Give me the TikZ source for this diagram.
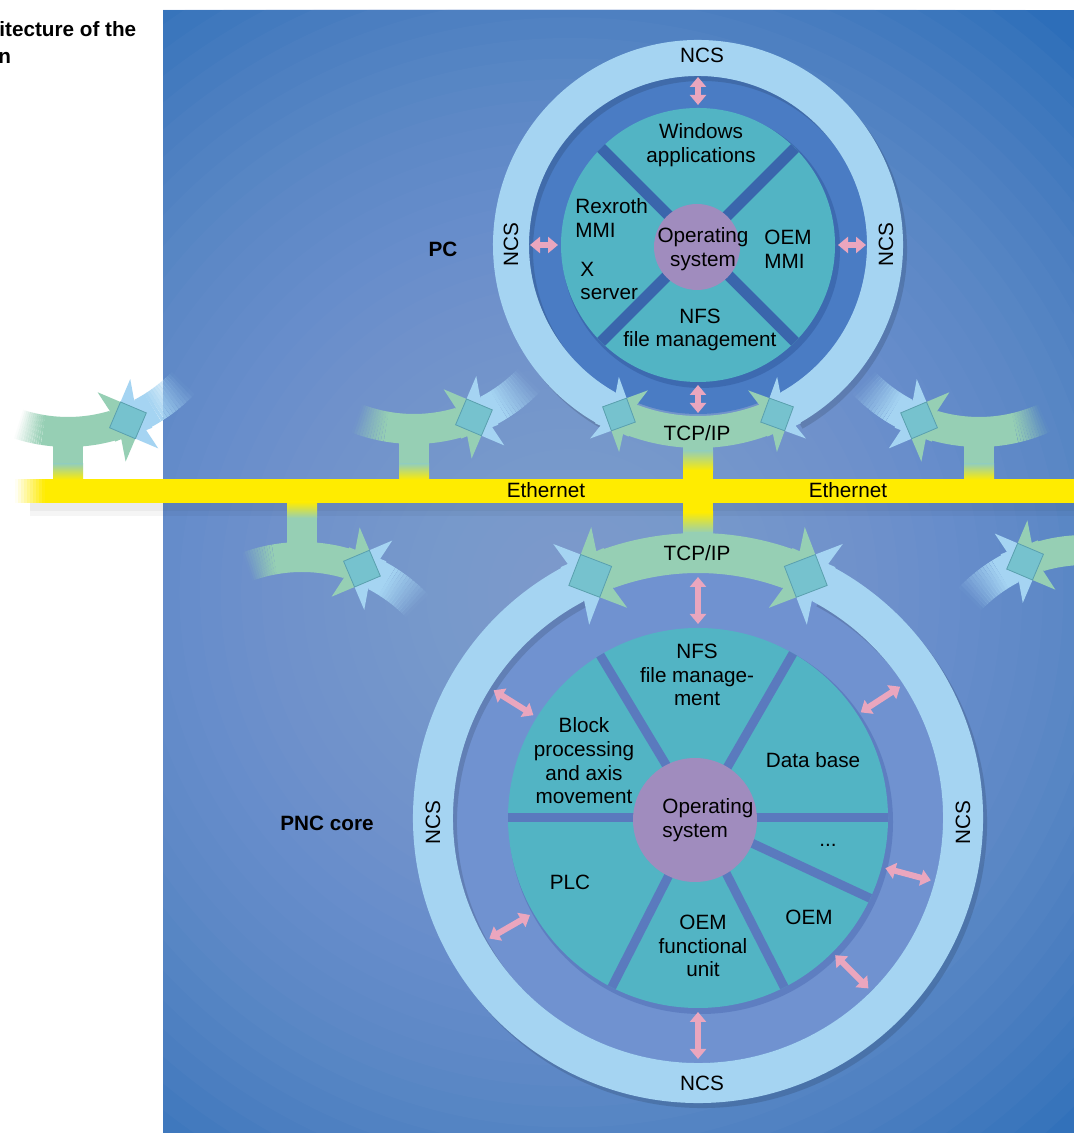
\documentclass[tikz,border=0pt]{standalone}
\usepackage{fontspec}
\setmainfont{Liberation Sans}
\usetikzlibrary{arrows.meta,calc}
\definecolor{ringblue}{RGB}{165,212,242}
\definecolor{teal1}{RGB}{82,180,196}
\definecolor{purp}{RGB}{160,140,190}
\definecolor{pinkc}{RGB}{234,166,190}
\definecolor{greenc}{RGB}{150,207,180}
\definecolor{sqc}{RGB}{118,194,206}
\definecolor{sqd}{RGB}{90,160,175}
\definecolor{yel}{RGB}{255,236,0}
\definecolor{innertop}{RGB}{74,124,196}
\definecolor{innerbot}{RGB}{112,146,208}
\definecolor{gaptop}{RGB}{58,102,172}
\definecolor{gapbot}{RGB}{90,122,190}
\definecolor{bgbase}{RGB}{45,110,185}
\definecolor{bglight}{RGB}{150,172,222}

% junction: two arrowheads meeting, overlap square
\newcommand\junc[5]{%
  \begin{scope}[shift={(#1)},rotate=#2,scale=#3]
    \fill[ringblue] (-18,-#4) -- (-12,-#4) -- (-16,-34) -- (18,0) -- (-16,34) -- (-12,#4) -- (-18,#4) -- cycle;
    \fill[greenc] (18,-#5) -- (12,-#5) -- (16,-34) -- (-18,0) -- (16,34) -- (12,#5) -- (18,#5) -- cycle;
    \filldraw[fill=sqc,draw=sqd,line width=0.4pt] (18,0) -- (0,18) -- (-18,0) -- (0,-18) -- cycle;
  \end{scope}}

% fading arc: color, centre, radius, opaque angle, transparent angle, width
\newcommand\fadearc[6]{%
  \foreach \fk in {0,...,11}{%
    \pgfmathsetmacro\fsa{(#4)+((#5)-(#4))*\fk/12}%
    \pgfmathsetmacro\fea{(#4)+((#5)-(#4))*(\fk+1)/12}%
    \pgfmathsetmacro\fop{1-(\fk+0.5)/12}%
    \draw[#1, line width=#6, draw opacity=\fop] ($(#2)+(\fsa:#3)$) arc[start angle=\fsa, end angle=\fea, radius=#3];
  }}

\begin{document}
\begin{tikzpicture}[x=0.5pt,y=0.5pt,
  lbl/.style={font=\fontsize{10.35pt}{11.8pt}\selectfont, align=center, inner sep=0pt, text=black},
  lblb/.style={lbl, font=\fontsize{10.35pt}{11.8pt}\selectfont\bfseries},
  pinkarr/.style={draw=pinkc, line width=3pt, {Triangle[width=8pt,length=5pt]}-{Triangle[width=8pt,length=5pt]}},
  shadowc/.style={black, opacity=0.13}]

\useasboundingbox (0,0) rectangle (1074,1133);
\fill[white] (0,0) rectangle (1074,1133);
% blue panel with soft light centre
\begin{scope}
  \clip (163,0) rectangle (1074,1123);
  \fill[bgbase] (163,0) rectangle (1074,1123);
  \foreach \k in {0,...,35}{%
    \pgfmathsetmacro\rx{740*(1-\k/36)}
    \fill[bglight, opacity=0.052] (570,540) ellipse [x radius=\rx, y radius=\rx];
  }
\end{scope}

% title
\node[lblb, anchor=west, align=left] (title1) at (-1,1104) {itecture of the};
\node[lblb, anchor=west, align=left] (title2) at (-2,1075) {n};

% Ethernet bar with shadow
\fill[black,opacity=0.08] (30,622) rectangle (1074,630);
\fill[black,opacity=0.04] (30,617) rectangle (1074,622);
\fill[yel] (45,630) rectangle (1074,654);
\foreach \i in {0,...,9}{%
  \pgfmathsetmacro\eop{1-(\i+0.5)/10}
  \fill[yel, opacity=\eop] ({45-3*\i},630) rectangle ({45-3*(\i+1)},654);
}

% stems
\fill[greenc] (683,681) rectangle (713,694);
\shade[top color=greenc, bottom color=yel] (683,662) rectangle (713,682);
\fill[yel] (683,620) rectangle (713,663);
\shade[top color=yel, bottom color=greenc] (683,600) rectangle (713,621);
\fill[greenc] (683,586) rectangle (713,601);
\foreach \sx in {53,399,964}{%
  \fill[greenc] (\sx,668) rectangle ({\sx+30},696);
  \shade[top color=greenc, bottom color=yel] (\sx,653) rectangle ({\sx+30},669);
}
\fill[greenc] (287,584) rectangle (317,616);
\shade[top color=yel, bottom color=greenc] (287,615) rectangle (317,631);

% side connectors
\coordinate (cA) at (68,861);
\coordinate (jA) at ($(cA)+(-68:160)$);
\draw[greenc, line width=15pt] ($(cA)+(-73.5:160)$) arc[start angle=-73.5, end angle=-99, radius=160];
\fadearc{greenc}{cA}{160}{-99}{-108}{15pt}
\draw[ringblue, line width=16pt] ($(cA)+(-62.5:160)$) arc[start angle=-62.5, end angle=-58, radius=160];
\fadearc{ringblue}{cA}{160}{-58}{-44}{16pt}
\junc{jA}{-158}{1.1}{14.5}{13.6}

\coordinate (cB) at (414,864);
\coordinate (jB) at ($(cB)+(-68:160)$);
\draw[greenc, line width=15pt] ($(cB)+(-73.5:160)$) arc[start angle=-73.5, end angle=-100, radius=160];
\fadearc{greenc}{cB}{160}{-100}{-111}{15pt}
\draw[ringblue, line width=16pt] ($(cB)+(-62.5:160)$) arc[start angle=-62.5, end angle=-58, radius=160];
\fadearc{ringblue}{cB}{160}{-58}{-44}{16pt}
\junc{jB}{-158}{1.1}{14.5}{13.6}

\coordinate (cD) at (979,861);
\coordinate (jD) at ($(cD)+(-112:160)$);
\draw[greenc, line width=15pt] ($(cD)+(-106.5:160)$) arc[start angle=-106.5, end angle=-77, radius=160];
\fadearc{greenc}{cD}{160}{-77}{-66}{15pt}
\draw[ringblue, line width=16pt] ($(cD)+(-117.5:160)$) arc[start angle=-117.5, end angle=-122, radius=160];
\fadearc{ringblue}{cD}{160}{-122}{-136}{16pt}
\junc{jD}{-22}{1.1}{14.5}{13.6}

\coordinate (cC) at (302,416);
\coordinate (jC) at ($(cC)+(68:160)$);
\draw[greenc, line width=15pt] ($(cC)+(73.5:160)$) arc[start angle=73.5, end angle=100, radius=160];
\fadearc{greenc}{cC}{160}{100}{110}{15pt}
\draw[ringblue, line width=16pt] ($(cC)+(62.5:160)$) arc[start angle=62.5, end angle=58, radius=160];
\fadearc{ringblue}{cC}{160}{58}{44}{16pt}
\junc{jC}{158}{1.1}{14.5}{13.6}

\coordinate (cE) at (1085,423);
\coordinate (jE) at ($(cE)+(112:160)$);
\draw[greenc, line width=15pt] ($(cE)+(106.5:160)$) arc[start angle=106.5, end angle=60, radius=160];
\draw[ringblue, line width=16pt] ($(cE)+(117.5:160)$) arc[start angle=117.5, end angle=122, radius=160];
\fadearc{ringblue}{cE}{160}{122}{136}{16pt}
\junc{jE}{22}{1.1}{14.5}{13.6}

% ===== top circle (PC) =====
\coordinate (pc) at (698,888);
\fill[innertop] (pc) circle (169);
\fill[gaptop, opacity=0.8] ($(pc)+(3,-4)$) circle (139);
\fill[teal1] (pc) circle (137);
\foreach \a in {45,135,225,315} \draw[gaptop, line width=5.5pt] (pc) -- ($(pc)+(\a:137)$);
\fill[purp] (697,886) circle (43);
\draw[shadowc, line width=18pt] ($(pc)+(4,-5)+(-60.7:187)$) arc[start angle=-60.7, end angle=240.7, radius=187];
\draw[ringblue, line width=18pt] ($(pc)+(-60.7:187)$) arc[start angle=-60.7, end angle=240.7, radius=187];
\draw[greenc, line width=16pt] ($(pc)+(-110.7:187)$) arc[start angle=-110.7, end angle=-69.3, radius=187];
\coordinate (pcL) at ($(pc)+(-115:187)$);
\coordinate (pcR) at ($(pc)+(-65:187)$);
\junc{pcL}{-25}{1}{18}{16}
\junc{pcR}{-155}{1}{18}{16}
\foreach \a in {90,180,0,270} \draw[pinkarr] ($(pc)+(\a:140)$) -- ($(pc)+(\a:168)$);

% ===== bottom circle (PNC core) =====
\coordinate (bc) at (698,315);
\fill[innerbot] (bc) circle (245);
\fill[gapbot, opacity=0.8] ($(bc)+(3,-4)$) circle (192);
\fill[teal1] (bc) circle (190);
\foreach \a in {180,121,60,0,-25,-63,-117} \draw[gapbot, line width=4.5pt] (bc) -- ($(bc)+(\a:190)$);
\fill[purp] (695,313) circle (62);
\draw[shadowc, line width=20pt] ($(bc)+(4,-5)+(117.9:265)$) arc[start angle=117.9, end angle=422.1, radius=265];
\draw[ringblue, line width=20pt] ($(bc)+(117.9:265)$) arc[start angle=117.9, end angle=422.1, radius=265];
\draw[greenc, line width=20pt] ($(bc)+(69.9:265)$) arc[start angle=69.9, end angle=110.1, radius=265];
\coordinate (bcL) at ($(bc)+(114:265)$);
\coordinate (bcR) at ($(bc)+(66:265)$);
\junc{bcL}{24}{1.3}{15.4}{15.4}
\junc{bcR}{156}{1.3}{15.4}{15.4}
\foreach \a in {90,148,210,270,315,345,33} \draw[pinkarr] ($(bc)+(\a:194)$) -- ($(bc)+(\a:241)$);

% ===== labels =====
\node[lbl] (tcp1) at (697,700) {TCP/IP};
\node[lbl] (tcp2) at (697,580) {TCP/IP};
\node[lbl] (eth1) at (546,643) {Ethernet};
\node[lbl] (eth2) at (848,643) {Ethernet};

\node[lbl] (ncs1) at (702,1078) {NCS};
\node[lbl, rotate=90] (ncs2) at (511,888) {NCS};
\node[lbl, rotate=90] (ncs3) at (886,888) {NCS};
\node[lbl] (win) at (701,988) {Windows\\applications};
\node[lbl, anchor=west, align=left] (rex) at (575,915) {Rexroth\\MMI};
\node[lbl, anchor=west, align=left] (xs) at (580,852) {X\\server};
\node[lbl] (os1) at (703,884) {Operating\\system};
\node[lbl, anchor=west, align=left] (oemmmi) at (764,884) {OEM\\MMI};
\node[lbl] (nfs1) at (700,803) {NFS\\file management};
\node[lblb] (pclbl) at (443,884) {PC};

\node[lbl] (nfs2) at (697,458) {NFS\\file manage-\\ment};
\node[lbl] (blk) at (584,372) {Block\\processing\\and axis\\movement};
\node[lbl] (db) at (813,373) {Data base};
\node[lbl, anchor=west, align=left] (os2) at (662,313) {Operating\\system};
\node[lbl] (dots) at (828,288) {...};
\node[lbl] (plc) at (570,251) {PLC};
\node[lbl] (oem) at (809,216) {OEM};
\node[lbl] (oemf) at (703,187) {OEM\\functional\\unit};
\node[lbl, rotate=90] (ncs4) at (433,310) {NCS};
\node[lbl, rotate=90] (ncs5) at (963,310) {NCS};
\node[lbl] (ncs6) at (702,50) {NCS};
\node[lblb] (pnc) at (327,310) {PNC core};
\end{tikzpicture}
\end{document}
